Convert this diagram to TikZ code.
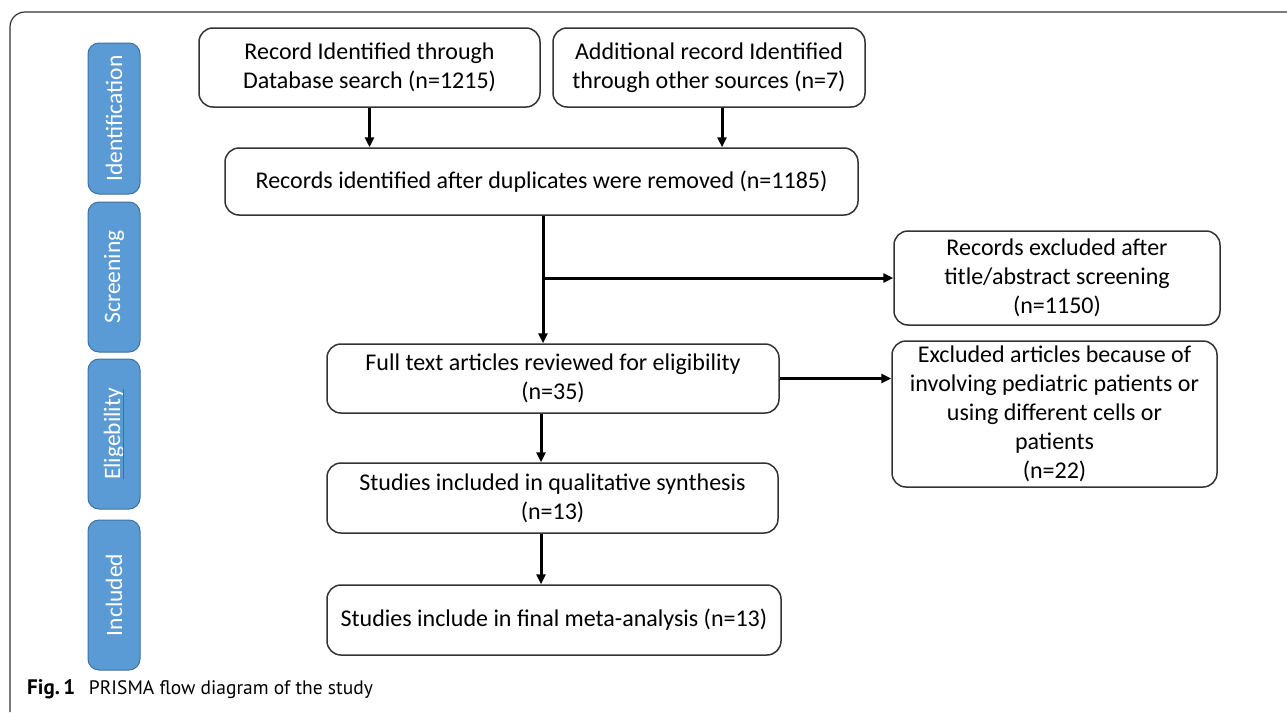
\documentclass[tikz,border=0pt]{standalone}
\usepackage{fontspec}
\setmainfont{Carlito}
\newfontfamily\capfont{PT Sans}
\usetikzlibrary{arrows.meta,calc}
\definecolor{barblue}{HTML}{5B9BD5}
\definecolor{barline}{HTML}{41719C}
\definecolor{edge}{HTML}{333333}
\definecolor{squig}{HTML}{B0406A}
\tikzset{
  flowbox/.style={draw=edge, line width=1.5pt, rounded corners=14pt, inner sep=0pt,
    align=center, font=\fontsize{24}{29}\selectfont, text=black},
  stagebar/.style={draw=barline, fill=barblue, line width=1pt, rounded corners=11pt,
    minimum width=52pt, inner sep=0pt},
  stagetext/.style={text=white, rotate=90, font=\fontsize{23.5}{28}\selectfont},
  arr/.style={line width=3pt, -{Triangle[length=10pt,width=9pt]}},
  lin/.style={line width=3pt}
}
\begin{document}
\begin{tikzpicture}[x=1pt,y=-1pt]
\useasboundingbox (0,0) rectangle (1287,712);
\fill[white] (0,0) rectangle (1287,712);
% outer frame
\draw[edge, line width=1.2pt, rounded corners=15pt] (10,712) -- (10,12) -- (1287,12);

% stage bars
\node[stagebar, minimum height=151pt] (sid) at (114,118.5) {};
\node[stagetext] (tid) at (sid.center) {Identification};
\node[stagebar, minimum height=150pt] (ssc) at (114,277) {};
\node[stagetext] (tsc) at (ssc.center) {Screening};
\node[stagebar, minimum height=150pt] (sel) at (114,434) {};
\node[stagetext] (tel) at (sel.center) {Eligebility};
\draw[squig, line width=0.8pt] ($(tel.center)+(9,45)$) -- ($(tel.center)+(9,-45)$);
\node[stagebar, minimum height=150pt] (sin) at (114,595) {};
\node[stagetext] (tin) at (sin.center) {Included};

% boxes
\node[flowbox, minimum width=341pt, minimum height=79pt] (b1) at (369.5,67.5)
  {Record Identified through\\Database search (n=1215)};
\node[flowbox, minimum width=312pt, minimum height=79pt] (b2) at (709,67.5)
  {Additional record Identified\\through other sources (n=7)};
\node[flowbox, minimum width=633pt, minimum height=67pt] (b3) at (541.5,181.5)
  {Records identified after duplicates were removed (n=1185)};
\node[flowbox, minimum width=326pt, minimum height=94pt] (b5) at (1057,278)
  {Records excluded after\\title/abstract screening\\(n=1150)};
\node[flowbox, minimum width=452pt, minimum height=69pt] (b4) at (553,378.5)
  {Full text articles reviewed for eligibility\\(n=35)};
\node[flowbox, minimum width=325pt, minimum height=146pt] (b6) at (1054.5,414)
  {Excluded articles because of\\involving pediatric patients or\\using different cells or\\patients\\(n=22)};
\node[flowbox, minimum width=451pt, minimum height=70pt] (b7) at (552.5,498)
  {Studies included in qualitative synthesis\\(n=13)};
\node[flowbox, minimum width=454pt, minimum height=70pt] (b8) at (554,620)
  {Studies include in final meta-analysis (n=13)};

% connectors
\coordinate (a2) at ($(b2.south)+(13,0)$);
\coordinate (v1) at ($(b3.south)+(1.5,0)$);
\coordinate (j1) at (v1 |- b5.west);
\coordinate (v2) at ($(b4.south)+(-12,0)$);
\draw[arr] (b1.south) -- (b1.south |- b3.north);
\draw[arr] (a2) -- (a2 |- b3.north);
\draw[arr] (v1) -- (v1 |- b4.north);
\draw[arr] (j1) -- (b5.west);
\draw[arr] (b4.east) -- (b4.east -| b6.west);
\draw[arr] (v2) -- (v2 |- b7.north);
\coordinate (v3) at (v2 |- b7.south);
\draw[arr] (v3) -- (v3 |- b8.north);

% caption
\node[anchor=base west, inner sep=0pt, font=\capfont\fontsize{19.5}{24}\selectfont] (cap) at (27,694)
  {{\fontsize{21}{24}\selectfont\textbf{Fig.\,1}}\hspace{0.7em}PRISMA flow diagram of the study};
\end{tikzpicture}
\end{document}
